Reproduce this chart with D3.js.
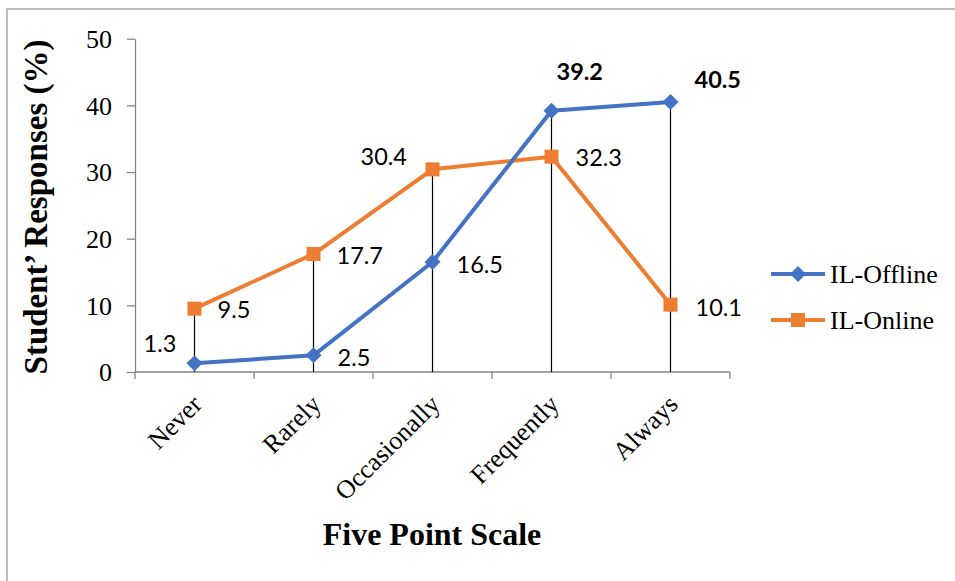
<!DOCTYPE html>
<html>
<head>
<meta charset="utf-8">
<script src="https://cdn.jsdelivr.net/npm/d3@7"></script>
<style>
  html, body { margin: 0; padding: 0; background: #fff; }
  svg { display: block; }
</style>
</head>
<body>
<svg id="chart" width="955" height="581"></svg>
<script>
// Five-point scale responses for independent learning, offline vs online
const categories = ["Never", "Rarely", "Occasionally", "Frequently", "Always"];
const offlineValues = [1.3, 2.5, 16.5, 39.2, 40.5];
const onlineValues = [9.5, 17.7, 30.4, 32.3, 10.1];
const seriesNames = ["IL-Offline", "IL-Online"];
const yTicks = [0, 10, 20, 30, 40, 50];

const W = 955, H = 581;
const plot = { left: 135, right: 730, top: 38.7, bottom: 372 };
const serif = "'Liberation Serif', 'Times New Roman', serif";

const svg = d3.select("#chart");

// outer frame (top and left edges)
svg.append("path")
  .attr("d", `M7,${H} L7,9 L${W},9`)
  .attr("fill", "none")
  .attr("stroke", "#a6a6a6")
  .attr("stroke-width", 1.5);

const x = d3.scaleBand().domain(categories).range([plot.left, plot.right]);
const y = d3.scaleLinear().domain([0, 50]).range([plot.bottom, plot.top]);
const cx = c => x(c) + x.bandwidth() / 2;

// y axis
const yAxis = svg.append("g")
  .attr("transform", `translate(${plot.left},0)`)
  .call(d3.axisLeft(y).tickValues(yTicks).tickSize(8).tickPadding(15).tickSizeOuter(0));
yAxis.select(".domain").attr("stroke", "#868686").attr("stroke-width", 1.3);
yAxis.selectAll(".tick line").attr("stroke", "#868686").attr("stroke-width", 1.3);
yAxis.selectAll(".tick text")
  .attr("font-family", serif)
  .attr("font-size", 26)
  .attr("fill", "#000")
  .attr("dy", "0.34em");

// x axis: ticks sit between categories
const xAxisG = svg.append("g").attr("transform", `translate(0,${plot.bottom})`);
xAxisG.append("line")
  .attr("x1", plot.left).attr("x2", plot.right)
  .attr("y1", 0).attr("y2", 0)
  .attr("stroke", "#868686").attr("stroke-width", 1.3);
const boundaries = categories.map(c => x(c)).concat([x(categories[categories.length - 1]) + x.bandwidth()]);
xAxisG.selectAll("line.tk").data(boundaries).enter().append("line")
  .attr("class", "tk")
  .attr("x1", d => d).attr("x2", d => d)
  .attr("y1", 0).attr("y2", 7)
  .attr("stroke", "#868686").attr("stroke-width", 1.3);
xAxisG.selectAll("text.cat").data(categories).enter().append("text")
  .attr("class", "cat")
  .attr("transform", d => `translate(${cx(d) - 4},${21}) rotate(-45)`)
  .attr("text-anchor", "end")
  .attr("dy", "0.7em")
  .attr("font-family", serif)
  .attr("font-size", 26)
  .attr("fill", "#000")
  .text(d => d);

// drop lines from the highest point of each category to the axis
svg.append("g").selectAll("line").data(categories).enter().append("line")
  .attr("x1", cx).attr("x2", cx)
  .attr("y1", (d, i) => y(Math.max(offlineValues[i], onlineValues[i])))
  .attr("y2", plot.bottom)
  .attr("stroke", "#000")
  .attr("stroke-width", 1.2);

const line = d3.line().x((d, i) => cx(categories[i])).y(d => y(d));
const blue = "#4472C4", orange = "#ED7D31";

// online series
svg.append("path").datum(onlineValues)
  .attr("d", line).attr("fill", "none")
  .attr("stroke", orange).attr("stroke-width", 4).attr("stroke-linejoin", "round");
svg.append("g").selectAll("rect").data(onlineValues).enter().append("rect")
  .attr("x", (d, i) => cx(categories[i]) - 7)
  .attr("y", d => y(d) - 7)
  .attr("width", 14).attr("height", 14)
  .attr("fill", orange);

// offline series
const diamond = s => `M0,${-s} L${s},0 L0,${s} L${-s},0 Z`;
svg.append("path").datum(offlineValues)
  .attr("d", line).attr("fill", "none")
  .attr("stroke", blue).attr("stroke-width", 4).attr("stroke-linejoin", "round");
svg.append("g").selectAll("path").data(offlineValues).enter().append("path")
  .attr("transform", (d, i) => `translate(${cx(categories[i])},${y(d)})`)
  .attr("d", diamond(8))
  .attr("fill", blue);

// data labels: offsets of the label's left edge / centre line from each point
const labelFont = "Lato, 'Open Sans', 'Liberation Sans', sans-serif";
const offlineOffsets = [[-51, -20], [24, 2], [24, 3], [5, -39], [24, -22]];
const onlineOffsets = [[23, 1], [23, 2], [-72, -13], [24, 1], [25, 3]];
const offlineBold = [false, false, false, true, true];

function addLabels(values, offsets, bold) {
  svg.append("g").selectAll("text").data(values).enter().append("text")
    .attr("x", (d, i) => cx(categories[i]) + offsets[i][0])
    .attr("y", (d, i) => y(d) + offsets[i][1])
    .attr("dy", "0.36em")
    .attr("font-family", labelFont)
    .attr("font-size", 23.5)
    .attr("font-weight", (d, i) => bold && bold[i] ? "bold" : "normal")
    .attr("fill", "#000")
    .text(d => d.toFixed(1));
}
addLabels(offlineValues, offlineOffsets, offlineBold);
addLabels(onlineValues, onlineOffsets, null);

// axis titles
svg.append("text")
  .attr("x", 432).attr("y", 545)
  .attr("text-anchor", "middle")
  .attr("font-family", serif)
  .attr("font-size", 32).attr("font-weight", "bold")
  .text("Five Point Scale");
svg.append("text")
  .attr("transform", `translate(47,207) rotate(-90)`)
  .attr("text-anchor", "middle")
  .attr("font-family", serif)
  .attr("font-size", 33).attr("font-weight", "bold")
  .text("Student’ Responses (%)");

// legend
const legend = svg.append("g");
const legendItems = [
  { name: seriesNames[0], color: blue, shape: "diamond", y: 274 },
  { name: seriesNames[1], color: orange, shape: "square", y: 320 }
];
legendItems.forEach(it => {
  legend.append("line")
    .attr("x1", 771).attr("x2", 825).attr("y1", it.y).attr("y2", it.y)
    .attr("stroke", it.color).attr("stroke-width", 4);
  if (it.shape === "diamond") {
    legend.append("path").attr("transform", `translate(798,${it.y})`)
      .attr("d", diamond(8)).attr("fill", it.color);
  } else {
    legend.append("rect").attr("x", 791).attr("y", it.y - 7)
      .attr("width", 14).attr("height", 14).attr("fill", it.color);
  }
  legend.append("text")
    .attr("x", 830).attr("y", it.y).attr("dy", "0.33em")
    .attr("font-family", serif)
    .attr("font-size", 26)
    .attr("fill", "#000")
    .text(it.name);
});
</script>
</body>
</html>
